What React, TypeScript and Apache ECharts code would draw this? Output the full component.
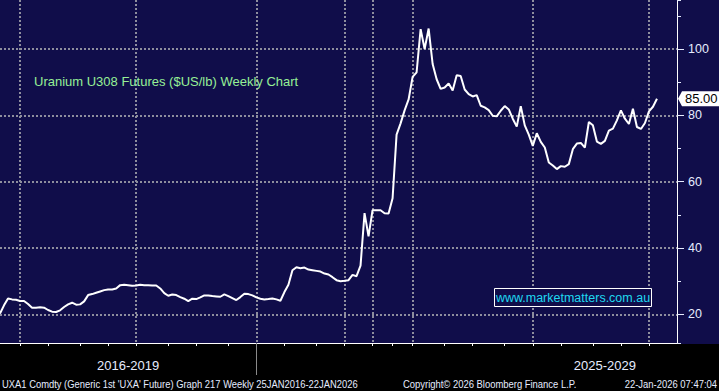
import { useEffect, useRef } from "react";
import * as echarts from "echarts";

// Weekly UXA1 closes (observation index order, $US/lb)
const prices: number[] = [
  20.2, 22.7, 24.8, 24.5, 24.4, 24.0, 24.0, 23.1, 22.0, 22.0,
  22.1, 22.0, 21.3, 20.8, 20.7, 21.2, 22.2, 23.0, 23.5, 22.9,
  23.0, 23.9, 25.8, 26.1, 26.5, 26.9, 27.3, 27.5, 27.5, 27.8,
  28.8, 28.9, 28.8, 28.6, 28.7, 28.9, 28.8, 28.8, 28.7, 28.7,
  27.8, 26.4, 25.6, 26.0, 25.8, 25.2, 24.7, 24.0, 24.7, 24.6,
  25.1, 25.7, 25.7, 25.5, 25.4, 25.3, 26.0, 25.5, 24.9, 24.3,
  25.2, 26.2, 26.1, 25.7, 25.1, 24.7, 24.5, 24.6, 24.8, 24.5,
  24.1, 26.7, 28.9, 33.3, 34.2, 33.9, 34.1, 33.5, 33.3, 33.1,
  32.9, 32.3, 32.0, 31.2, 30.3, 30.0, 30.1, 30.3, 31.9, 31.5,
  34.7, 50.5, 43.5, 51.4, 51.4, 51.4, 50.5, 50.4, 55.0, 74.2,
  77.6, 81.5, 84.8, 91.6, 93.0, 106.0, 100.0, 106.2, 95.5, 90.9,
  88.0, 88.4, 89.6, 87.5, 92.1, 91.9, 87.8, 86.4, 85.7, 86.1,
  82.9, 82.4, 81.6, 79.9, 79.7, 81.4, 82.8, 81.8, 79.0, 76.6,
  82.8, 77.0, 74.2, 70.8, 74.6, 72.0, 70.3, 65.8, 64.9, 63.8,
  64.7, 64.5, 65.3, 69.8, 71.5, 71.7, 70.3, 78.0, 77.0, 72.1,
  71.4, 72.3, 75.4, 76.0, 78.5, 81.5, 79.0, 77.4, 82.0, 76.5,
  75.9, 77.7, 81.2, 82.6, 85.0,
];

const slotCount = 170;
const categories: string[] = Array.from({ length: slotCount }, (_, i) => String(i));

const tickSlots = [5, 12, 20, 27, 34, 42, 49, 57, 64, 71, 79, 86, 93, 98, 103, 111, 118, 126, 133, 140, 148, 155, 162];
const gridSlots = [5, 34, 64, 86, 93, 103, 133, 162];
const periodLabels = ["2016-2019", "2025-2029"];
const periodLabelSlots = [32, 151];
const separatorSlot = 64;

const yMin = 11.35;
const yMax = 114.8;

const titleText = "Uranium U308 Futures ($US/lb) Weekly Chart";
const watermark = "www.marketmatters.com.au";
const footerLeft = "UXA1 Comdty (Generic 1st 'UXA' Future) Graph 217 Weekly 25JAN2016-22JAN2026";
const footerMid = "Copyright\u00A9 2026 Bloomberg Finance L.P.";
const footerRight = "22-Jan-2026 07:47:04";

const NAVY = "#100d4a";
const AXIS_TEXT = "#e6ecff";
const GRID_COLOR = "#8e8e9e";
const FONT = "'Liberation Sans', Arial, sans-serif";

export default function App() {
  const ref = useRef<HTMLDivElement>(null);

  useEffect(() => {
    if (!ref.current) return;
    const chart = echarts.init(ref.current, undefined, { renderer: "svg" });
    const tickSet = new Set(tickSlots);
    const gridSet = new Set(gridSlots);
    const labelMap = new Map<number, string>();
    periodLabelSlots.forEach((s, i) => labelMap.set(s, periodLabels[i]));
    const last = prices[prices.length - 1];

    const footerStyle = { fill: AXIS_TEXT, font: `10.5px ${FONT}`, textVerticalAlign: "middle" };

    chart.setOption({
      animation: false,
      backgroundColor: NAVY,
      title: {
        text: titleText,
        left: 34,
        top: 75,
        padding: 0,
        textStyle: { color: "#96f096", fontSize: 13, fontWeight: "normal", fontFamily: FONT },
      },
      grid: { left: 0, right: 42, top: 0, bottom: 48, containLabel: false },
      xAxis: [
        {
          type: "category",
          data: categories,
          boundaryGap: false,
          axisLine: { show: true, lineStyle: { color: "#ffffff", width: 1 } },
          axisTick: {
            show: true,
            length: 3,
            interval: (i: number) => tickSet.has(i),
            lineStyle: { color: "#ffffff" },
          },
          axisLabel: {
            show: true,
            interval: (i: number) => labelMap.has(i),
            formatter: (_v: string, i: number) => labelMap.get(i) || "",
            color: AXIS_TEXT,
            fontSize: 13,
            fontFamily: FONT,
            margin: 16,
          },
          splitLine: {
            show: true,
            interval: (i: number) => gridSet.has(i),
            lineStyle: { color: GRID_COLOR, width: 2, type: [2, 2] },
          },
        },
        {
          type: "category",
          data: categories,
          boundaryGap: false,
          position: "bottom",
          axisLine: { show: false },
          axisTick: {
            show: true,
            length: 32,
            interval: (i: number) => i === separatorSlot,
            lineStyle: { color: "#8a8a8a" },
          },
          axisLabel: { show: false },
          splitLine: { show: false },
        },
      ],
      yAxis: [
        {
          type: "value",
          position: "right",
          min: yMin,
          max: yMax,
          splitNumber: 5,
          axisLine: { show: true, lineStyle: { color: "#ffffff", width: 1 } },
          axisTick: { show: true, length: 7, lineStyle: { color: AXIS_TEXT } },
          axisLabel: {
            show: true,
            color: AXIS_TEXT,
            fontSize: 12.5,
            fontFamily: FONT,
            margin: 11,
            showMinLabel: false,
            showMaxLabel: false,
            formatter: (v: number) => (Math.abs(v % 20) < 1e-6 ? String(v) : ""),
          },
          splitLine: {
            show: true,
            showMinLine: false,
            showMaxLine: false,
            lineStyle: { color: GRID_COLOR, width: 2, type: [2, 2] },
          },
        },
        {
          type: "value",
          position: "right",
          min: yMin,
          max: yMax,
          splitNumber: 10,
          axisLine: { show: false },
          axisTick: { show: true, length: 4, lineStyle: { color: AXIS_TEXT } },
          axisLabel: { show: false },
          splitLine: { show: false },
        },
      ],
      graphic: [
        {
          id: "bottomBand",
          type: "rect",
          z: -100,
          silent: true,
          shape: { x: 0, y: 344, width: 719, height: 47 },
          style: { fill: "#000000" },
        },
        {
          id: "watermarkBox",
          type: "rect",
          z: 50,
          shape: { x: 494.5, y: 288.5, width: 157, height: 18 },
          style: { fill: NAVY, stroke: "#ffffff", lineWidth: 1 },
        },
        {
          id: "watermarkText",
          type: "text",
          z: 51,
          x: 573,
          y: 298,
          style: {
            text: watermark,
            fill: "#1fd8f0",
            font: `12.5px ${FONT}`,
            textAlign: "center",
            textVerticalAlign: "middle",
          },
        },
        {
          id: "footerLeft",
          type: "text",
          x: 2,
          y: 384,
          scaleX: 0.895,
          style: { ...footerStyle, text: footerLeft },
        },
        {
          id: "footerMid",
          type: "text",
          x: 403,
          y: 384,
          scaleX: 0.9,
          style: { ...footerStyle, text: footerMid },
        },
        {
          id: "footerRight",
          type: "text",
          x: 717,
          y: 384,
          scaleX: 0.9,
          style: { ...footerStyle, text: footerRight, textAlign: "right" },
        },
      ],
      series: [
        {
          type: "line",
          xAxisIndex: 0,
          yAxisIndex: 0,
          data: prices,
          symbol: "none",
          lineStyle: { color: "#ffffff", width: 2 },
          z: 10,
        },
      ],
    });

    // last-price tag on the right axis, placed through the y scale
    const py = chart.convertToPixel({ yAxisIndex: 0 }, last) as number;
    const axisX = chart.getWidth() - 42;
    chart.setOption({
      graphic: [
        {
          id: "tagShape",
          type: "polygon",
          z: 60,
          shape: {
            points: [
              [axisX + 1, py],
              [axisX + 5, py - 7.5],
              [axisX + 44, py - 7.5],
              [axisX + 44, py + 7.5],
              [axisX + 5, py + 7.5],
            ],
          },
          style: { fill: "#ffffff" },
        },
        {
          id: "tagText",
          type: "text",
          z: 61,
          x: axisX + 8,
          y: py,
          style: {
            text: last.toFixed(2),
            fill: "#000000",
            font: `13px ${FONT}`,
            textVerticalAlign: "middle",
          },
        },
      ],
    });

    return () => chart.dispose();
  }, []);

  return (
    <div
      ref={ref}
      style={{ position: "fixed", left: 0, top: 0, width: 719, height: 391, background: "#000" }}
    />
  );
}
